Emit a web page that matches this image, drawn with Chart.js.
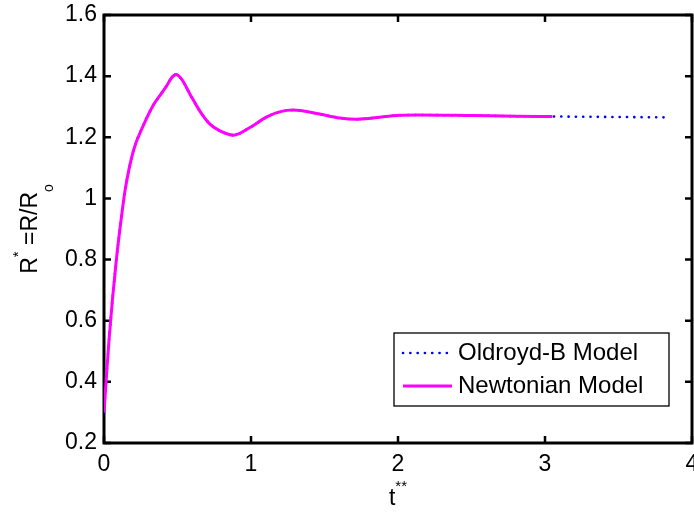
<!DOCTYPE html>
<html>
<head>
<meta charset="utf-8">
<script src="https://cdn.jsdelivr.net/npm/chart.js@4.4.1/dist/chart.umd.min.js"></script>
<style>
  html, body { margin: 0; padding: 0; background: #fff; }
  #wrap { width: 694px; height: 512px; }
</style>
</head>
<body>
<div id="wrap"><canvas id="chart" width="694" height="512"></canvas></div>
<script>
// ===== Data =====
const newtonT = [0, 0.014, 0.034, 0.057, 0.086, 0.113, 0.143, 0.2, 0.267, 0.335, 0.381, 0.426, 0.46, 0.49,
    0.528, 0.585, 0.653, 0.721, 0.789, 0.88, 0.993, 1.107, 1.2, 1.288, 1.446, 1.605, 1.718, 1.9, 2.01,
    2.13, 2.5, 2.8, 3.05];
const newtonR = [0.30, 0.40, 0.536, 0.667, 0.808, 0.917, 1.025, 1.156, 1.238, 1.305, 1.337, 1.368, 1.395, 1.405,
    1.39, 1.341, 1.285, 1.243, 1.221, 1.207, 1.232, 1.267, 1.284, 1.289, 1.278, 1.263, 1.259, 1.267, 1.272,
    1.273, 1.271, 1.269, 1.268];
const oldroydT = newtonT.concat([3.3, 3.6, 3.85]);
const oldroydR = newtonR.concat([1.267, 1.266, 1.265]);

const xTicks = [0, 1, 2, 3, 4];
const yTicks = [0.2, 0.4, 0.6, 0.8, 1.0, 1.2, 1.4, 1.6];

const FONT = "'Liberation Sans', Arial, Helvetica, sans-serif";

function toPoints(xs, ys) {
    return xs.map((x, i) => ({ x: x, y: ys[i] }));
}

// ===== Frame with inward ticks (MATLAB style) =====
const framePlugin = {
    id: "frame",
    beforeDatasetsDraw(chart) {
        const ctx = chart.ctx;
        const a = chart.chartArea;
        const xs = chart.scales.x, ys = chart.scales.y;
        const tl = 7;
        ctx.save();
        ctx.strokeStyle = "#000";
        ctx.lineWidth = 3;
        ctx.strokeRect(a.left, a.top, a.right - a.left, a.bottom - a.top);
        ctx.lineWidth = 2.5;
        ctx.beginPath();
        xTicks.forEach(v => {
            const px = xs.getPixelForValue(v);
            ctx.moveTo(px, a.bottom); ctx.lineTo(px, a.bottom - tl);
            ctx.moveTo(px, a.top); ctx.lineTo(px, a.top + tl);
        });
        yTicks.forEach(v => {
            const py = ys.getPixelForValue(v);
            ctx.moveTo(a.left, py); ctx.lineTo(a.left + tl, py);
            ctx.moveTo(a.right, py); ctx.lineTo(a.right - tl, py);
        });
        ctx.stroke();
        ctx.restore();
    }
};

// text made of pieces: [text, size, baseline shift]
function drawRich(ctx, parts, cx, baseY) {
    let total = 0;
    parts.forEach(p => {
        ctx.font = p[1] + "px " + FONT;
        total += ctx.measureText(p[0]).width;
    });
    let x = cx - total / 2;
    parts.forEach(p => {
        ctx.font = p[1] + "px " + FONT;
        ctx.fillText(p[0], x, baseY + p[2]);
        x += ctx.measureText(p[0]).width;
    });
}

// ===== Axis titles + legend box =====
const decorPlugin = {
    id: "decor",
    afterDraw(chart) {
        const ctx = chart.ctx;
        const a = chart.chartArea;
        ctx.save();
        ctx.fillStyle = "#000";
        ctx.textBaseline = "alphabetic";
        ctx.textAlign = "left";

        // x title: t**
        drawRich(ctx, [["t", 23, 0], ["**", 15, -14]], (a.left + a.right) / 2, 505);

        // y title: R* =R/Ro (rotated)
        ctx.save();
        ctx.translate(36.5, (a.top + a.bottom) / 2);
        ctx.rotate(-Math.PI / 2);
        drawRich(ctx, [["R", 23, 0], ["*", 15, -14], [" =R/R", 23, 0], ["o", 14, 16]], 0, 0);
        ctx.restore();

        // legend
        const bx = a.right - 298, by = a.bottom - 110, bw = 275, bh = 73;
        ctx.fillStyle = "#fff";
        ctx.fillRect(bx, by, bw, bh);
        ctx.strokeStyle = "#000";
        ctx.lineWidth = 1.3;
        ctx.strokeRect(bx, by, bw, bh);
        ctx.font = "24px " + FONT;
        ctx.textBaseline = "middle";
        chart.data.datasets.forEach((ds, i) => {
            const y = by + 20 + i * 33;
            ctx.save();
            ctx.strokeStyle = ds.borderColor;
            ctx.lineWidth = ds.borderWidth;
            ctx.lineCap = ds.borderCapStyle || "butt";
            ctx.setLineDash(ds.borderDash || []);
            ctx.beginPath();
            ctx.moveTo(bx + 9, y);
            ctx.lineTo(bx + 58, y);
            ctx.stroke();
            ctx.restore();
            ctx.fillStyle = "#000";
            ctx.fillText(ds.label, bx + 64, y);
        });
        ctx.restore();
    }
};

// ===== Chart =====
const chart = new Chart(document.getElementById("chart").getContext("2d"), {
    type: "line",
    data: {
        datasets: [
            {
                label: "Oldroyd-B Model",
                data: toPoints(oldroydT, oldroydR),
                borderColor: "#0000ff",
                borderWidth: 2.6,
                borderDash: [0.1, 7.2],
                borderCapStyle: "round",
                pointRadius: 0,
                cubicInterpolationMode: "monotone",
                order: 1
            },
            {
                label: "Newtonian Model",
                data: toPoints(newtonT, newtonR),
                borderColor: "#ff00ff",
                borderWidth: 3,
                pointRadius: 0,
                cubicInterpolationMode: "monotone",
                order: 0
            }
        ]
    },
    options: {
        responsive: false,
        animation: false,
        devicePixelRatio: 1,
        layout: { padding: { left: 0, top: 15, right: 2, bottom: 0 } },
        plugins: {
            legend: { display: false },
            tooltip: { enabled: false }
        },
        scales: {
            x: {
                type: "linear",
                min: 0,
                max: 4,
                grid: { display: false, drawTicks: false },
                border: { display: false },
                afterBuildTicks: s => { s.ticks = xTicks.map(v => ({ value: v })); },
                ticks: {
                    color: "#000",
                    font: { family: FONT, size: 23 },
                    padding: 8,
                    maxRotation: 0,
                    callback: v => String(v)
                },
                afterFit: s => { s.height = 69; s.paddingLeft = 0; s.paddingRight = 0; }
            },
            y: {
                min: 0.2,
                max: 1.6,
                grid: { display: false, drawTicks: false },
                border: { display: false },
                afterBuildTicks: s => { s.ticks = yTicks.map(v => ({ value: v })); },
                ticks: {
                    color: "#000",
                    font: { family: FONT, size: 23 },
                    padding: 7,
                    callback: v => String(Math.round(v * 10) / 10)
                },
                afterFit: s => { s.width = 104; s.paddingTop = 0; s.paddingBottom = 0; }
            }
        }
    },
    plugins: [framePlugin, decorPlugin]
});
</script>
</body>
</html>
